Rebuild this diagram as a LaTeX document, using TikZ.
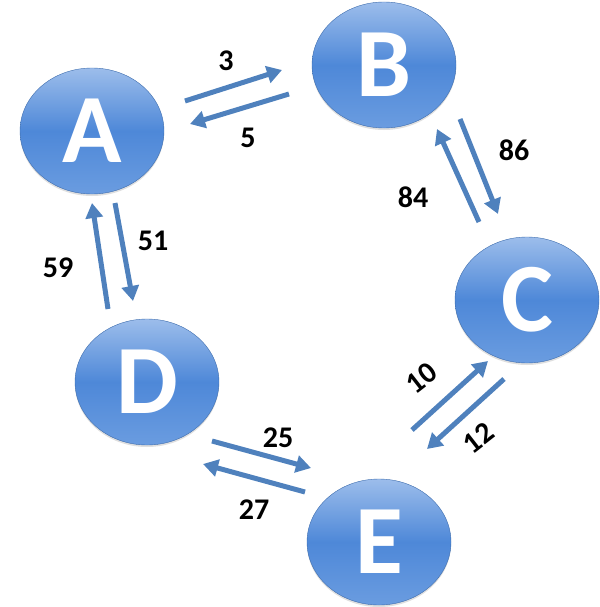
\documentclass[tikz,border=0pt]{standalone}
\usepackage{fontspec}
\setmainfont{Carlito}
\usetikzlibrary{arrows.meta,shapes.geometric,shadows}
\definecolor{flowblue}{HTML}{4F81BD}
\definecolor{balltop}{HTML}{9CBDEB}
\definecolor{ballmid}{HTML}{4E88D8}
\definecolor{ballbot}{HTML}{6A9CE0}
\tikzset{
  ball/.style={ellipse, inner sep=0pt, minimum width=144pt, minimum height=126pt,
    top color=balltop, bottom color=ballbot, middle color=ballmid,
    draw=ballmid!80!black, line width=0.4pt,
    drop shadow={opacity=0.25, shadow xshift=0pt, shadow yshift=-2pt},
    text=white, font=\fontsize{98}{98}\selectfont\bfseries},
  flow/.style={draw=flowblue, line width=5pt,
    -{Triangle[length=15pt,width=17pt]}},
  weight/.style={font=\fontsize{30}{30}\selectfont\bfseries, text=black, inner sep=0pt}
}
\begin{document}
\begin{tikzpicture}[x=1pt,y=-1pt]
\useasboundingbox (0,0) rectangle (599,607);

% states
\node[ball] (A) at (92,131) {A};
\node[ball] (B) at (384,65) {B};
\node[ball] (C) at (527,300) {C};
\node[ball] (D) at (147,382) {D};
\node[ball] (E) at (379,542) {E};

% arrow end points
\coordinate (ab0) at (185,101);
\coordinate (ab1) at (282,70);
\coordinate (ba0) at (289,94);
\coordinate (ba1) at (190,124);
\coordinate (bc0) at (460,119);
\coordinate (bc1) at (498,214);
\coordinate (cb0) at (479,222);
\coordinate (cb1) at (437,129);
\coordinate (ec0) at (412,430);
\coordinate (ec1) at (488,361);
\coordinate (ce0) at (504,379);
\coordinate (ce1) at (427,449);
\coordinate (de0) at (212,441);
\coordinate (de1) at (311,468);
\coordinate (ed0) at (305,492);
\coordinate (ed1) at (203,464);
\coordinate (ad0) at (115,203);
\coordinate (ad1) at (133,301);
\coordinate (da0) at (108,309);
\coordinate (da1) at (92,203);

% transitions
\draw[flow] (ab0) -- (ab1);
\draw[flow] (ba0) -- (ba1);
\draw[flow] (bc0) -- (bc1);
\draw[flow] (cb0) -- (cb1);
\draw[flow] (ec0) -- (ec1);
\draw[flow] (ce0) -- (ce1);
\draw[flow] (de0) -- (de1);
\draw[flow] (ed0) -- (ed1);
\draw[flow] (ad0) -- (ad1);
\draw[flow] (da0) -- (da1);

% weights
\node[weight] (w3)  at (226,61)  {3};
\node[weight] (w5)  at (248,138) {5};
\node[weight] (w86) at (514,150) {86};
\node[weight] (w84) at (413,197) {84};
\node[weight, rotate=38] (w10) at (421,378) {10};
\node[weight, rotate=38] (w12) at (478,438) {12};
\node[weight] (w25) at (278,438) {25};
\node[weight] (w27) at (254,510) {27};
\node[weight] (w51) at (153,241) {51};
\node[weight] (w59) at (58,268)  {59};
\end{tikzpicture}
\end{document}
